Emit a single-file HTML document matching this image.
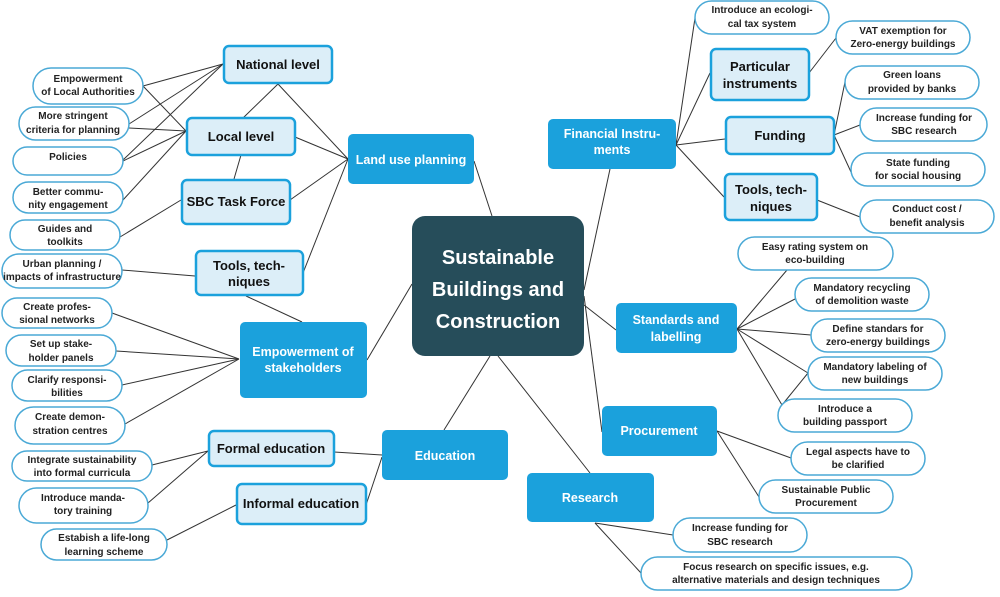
<!DOCTYPE html>
<html><head><meta charset="utf-8"><style>
html,body{margin:0;padding:0;background:#fff}
svg{display:block}
text{font-family:"Liberation Sans",sans-serif;font-weight:bold;text-anchor:middle}
.p{font-size:10px;fill:#222}
.l{font-size:13px;fill:#111}
.b{font-size:12.5px;fill:#fff}
</style></head><body>
<svg width="1000" height="597" viewBox="0 0 1000 597">
<g stroke="#333" stroke-width="1" fill="none">
<line x1="348" y1="159" x2="278" y2="84"/><line x1="348" y1="159" x2="295" y2="137"/><line x1="348" y1="159" x2="290" y2="200"/><line x1="348" y1="159" x2="303" y2="273"/><line x1="474" y1="161" x2="492" y2="216"/>
<line x1="223" y1="64" x2="143" y2="86"/><line x1="223" y1="64" x2="129" y2="124"/><line x1="223" y1="64" x2="123" y2="160"/>
<line x1="278" y1="84" x2="243" y2="118"/>
<line x1="186" y1="131" x2="143" y2="86"/><line x1="186" y1="131" x2="129" y2="128"/><line x1="186" y1="131" x2="123" y2="161"/><line x1="186" y1="131" x2="123" y2="200"/>
<line x1="241" y1="155" x2="234" y2="179"/><line x1="181" y1="200" x2="120" y2="237"/><line x1="195" y1="276" x2="122" y2="270"/><line x1="246" y1="296" x2="302" y2="322"/>
<line x1="239" y1="359" x2="112" y2="313"/><line x1="239" y1="359" x2="116" y2="351"/><line x1="239" y1="359" x2="122" y2="385"/><line x1="239" y1="359" x2="125" y2="424"/>
<line x1="367" y1="360" x2="412" y2="284"/>
<line x1="208" y1="451" x2="152" y2="465"/><line x1="208" y1="451" x2="148" y2="503"/><line x1="334" y1="452" x2="382" y2="455"/><line x1="366" y1="505" x2="382" y2="457"/><line x1="236" y1="505" x2="167" y2="540"/>
<line x1="444" y1="430" x2="490" y2="356"/><line x1="498" y1="356" x2="590" y2="473"/>
<line x1="595" y1="523" x2="673" y2="535"/><line x1="595" y1="523" x2="641" y2="573"/>
<line x1="717" y1="431" x2="791" y2="458"/><line x1="717" y1="431" x2="759" y2="497"/>
<line x1="584" y1="296" x2="602" y2="432"/><line x1="616" y1="330" x2="584" y2="305"/>
<line x1="737" y1="329" x2="787" y2="270"/><line x1="737" y1="329" x2="795" y2="299"/><line x1="737" y1="329" x2="811" y2="335"/><line x1="737" y1="329" x2="808" y2="373"/><line x1="737" y1="329" x2="782" y2="405"/><line x1="808" y1="373" x2="782" y2="405"/>
<line x1="610" y1="169" x2="584" y2="290"/>
<line x1="676" y1="145" x2="695" y2="18"/><line x1="676" y1="145" x2="710" y2="73"/><line x1="676" y1="145" x2="725" y2="139"/><line x1="676" y1="145" x2="724" y2="197"/>
<line x1="809" y1="73" x2="836" y2="38"/><line x1="834" y1="135" x2="845" y2="82"/><line x1="834" y1="135" x2="860" y2="125"/><line x1="834" y1="135" x2="851" y2="172"/><line x1="817" y1="200" x2="860" y2="217"/>
</g>
<rect x="412" y="216" width="172" height="140" rx="13" fill="#264d5a"/>
<text x="498" y="264" font-size="20" fill="#fff">Sustainable</text>
<text x="498" y="296" font-size="20" fill="#fff">Buildings and</text>
<text x="498" y="328" font-size="20" fill="#fff">Construction</text>
<g fill="#1ba1dc">
<rect x="348" y="134" width="126" height="50" rx="5"/>
<rect x="240" y="322" width="127" height="76" rx="5"/>
<rect x="382" y="430" width="126" height="50" rx="5"/>
<rect x="548" y="119" width="128" height="50" rx="5"/>
<rect x="616" y="303" width="121" height="50" rx="5"/>
<rect x="602" y="406" width="115" height="50" rx="5"/>
<rect x="527" y="473" width="127" height="49" rx="5"/>
</g>
<text class="b" x="411" y="164">Land use planning</text>
<text class="b" x="303" y="356">Empowerment of</text><text class="b" x="303" y="372">stakeholders</text>
<text class="b" x="445" y="460">Education</text>
<text class="b" x="612" y="138">Financial Instru-</text><text class="b" x="612" y="154">ments</text>
<text class="b" x="676" y="324">Standards and</text><text class="b" x="676" y="341">labelling</text>
<text class="b" x="659" y="435">Procurement</text>
<text class="b" x="590" y="502">Research</text>
<g fill="#dceef8" stroke="#1ba1dc" stroke-width="2.5">
<rect x="224" y="46" width="108" height="37" rx="5"/>
<rect x="187" y="118" width="108" height="37" rx="5"/>
<rect x="182" y="180" width="108" height="44" rx="5"/>
<rect x="196" y="251" width="107" height="44" rx="5"/>
<rect x="209" y="431" width="125" height="35" rx="5"/>
<rect x="237" y="484" width="129" height="40" rx="5"/>
<rect x="711" y="49" width="98" height="51" rx="5"/>
<rect x="726" y="117" width="108" height="37" rx="5"/>
<rect x="725" y="174" width="92" height="46" rx="5"/>
</g>
<text class="l" x="278" y="69">National level</text>
<text class="l" x="241" y="141">Local level</text>
<text class="l" x="236" y="206">SBC Task Force</text>
<text class="l" x="249" y="270">Tools, tech-</text><text class="l" x="249" y="286">niques</text>
<text class="l" x="271" y="453">Formal education</text>
<text class="l" x="301" y="508">Informal education</text>
<text class="l" x="760" y="71">Particular</text><text class="l" x="760" y="88">instruments</text>
<text class="l" x="780" y="140">Funding</text>
<text class="l" x="771" y="194">Tools, tech-</text><text class="l" x="771" y="211">niques</text>
<g fill="#fff" stroke="#4aa9d6" stroke-width="1.5">
<rect x="33" y="68" width="110" height="36" rx="18"/>
<rect x="19" y="107" width="110" height="33" rx="16.5"/>
<rect x="13" y="147" width="110" height="28" rx="14"/>
<rect x="13" y="182" width="110" height="31" rx="15.5"/>
<rect x="10" y="220" width="110" height="30" rx="15"/>
<rect x="2" y="254" width="120" height="34" rx="17"/>
<rect x="2" y="298" width="110" height="30" rx="15"/>
<rect x="6" y="335" width="110" height="31" rx="15.5"/>
<rect x="12" y="370" width="110" height="31" rx="15.5"/>
<rect x="15" y="407" width="110" height="37" rx="18.5"/>
<rect x="12" y="451" width="140" height="30" rx="15"/>
<rect x="19" y="488" width="129" height="35" rx="17.5"/>
<rect x="41" y="529" width="126" height="31" rx="15.5"/>
<rect x="695" y="1" width="134" height="33" rx="16.5"/>
<rect x="836" y="21" width="134" height="33" rx="16.5"/>
<rect x="845" y="66" width="134" height="33" rx="16.5"/>
<rect x="860" y="108" width="127" height="33" rx="16.5"/>
<rect x="851" y="153" width="134" height="33" rx="16.5"/>
<rect x="860" y="200" width="134" height="33" rx="16.5"/>
<rect x="738" y="237" width="155" height="33" rx="16.5"/>
<rect x="795" y="278" width="134" height="33" rx="16.5"/>
<rect x="811" y="319" width="134" height="33" rx="16.5"/>
<rect x="808" y="357" width="134" height="33" rx="16.5"/>
<rect x="778" y="399" width="134" height="33" rx="16.5"/>
<rect x="791" y="442" width="134" height="33" rx="16.5"/>
<rect x="759" y="480" width="134" height="33" rx="16.5"/>
<rect x="673" y="518" width="134" height="34" rx="17"/>
<rect x="641" y="557" width="271" height="33" rx="16.5"/>
</g>
<g class="p">
<text class="p" x="88" y="82">Empowerment</text><text class="p" x="88" y="95">of Local Authorities</text>
<text class="p" x="73" y="119">More stringent</text><text class="p" x="73" y="133">criteria for planning</text>
<text class="p" x="68" y="160">Policies</text>
<text class="p" x="68" y="195">Better commu-</text><text class="p" x="68" y="208">nity engagement</text>
<text class="p" x="65" y="232">Guides and</text><text class="p" x="65" y="245">toolkits</text>
<text class="p" x="62" y="267">Urban planning /</text><text class="p" x="62" y="280">impacts of infrastructure</text>
<text class="p" x="57" y="310">Create profes-</text><text class="p" x="57" y="323">sional networks</text>
<text class="p" x="61" y="347">Set up stake-</text><text class="p" x="61" y="361">holder panels</text>
<text class="p" x="67" y="383">Clarify responsi-</text><text class="p" x="67" y="396">bilities</text>
<text class="p" x="70" y="420">Create demon-</text><text class="p" x="70" y="434">stration centres</text>
<text class="p" x="82" y="463">Integrate sustainability</text><text class="p" x="82" y="476">into formal curricula</text>
<text class="p" x="83" y="501">Introduce manda-</text><text class="p" x="83" y="514">tory training</text>
<text class="p" x="104" y="541">Estabish a life-long</text><text class="p" x="104" y="555">learning scheme</text>
<text class="p" x="762" y="13">Introduce an ecologi-</text><text class="p" x="762" y="27">cal tax system</text>
<text class="p" x="903" y="34">VAT exemption for</text><text class="p" x="903" y="47">Zero-energy buildings</text>
<text class="p" x="912" y="78">Green loans</text><text class="p" x="912" y="92">provided by banks</text>
<text class="p" x="924" y="121">Increase funding for</text><text class="p" x="924" y="134">SBC research</text>
<text class="p" x="918" y="166">State funding</text><text class="p" x="918" y="179">for social housing</text>
<text class="p" x="927" y="212">Conduct cost /</text><text class="p" x="927" y="226">benefit analysis</text>
<text class="p" x="815" y="250">Easy rating system on</text><text class="p" x="815" y="263">eco-building</text>
<text class="p" x="862" y="291">Mandatory recycling</text><text class="p" x="862" y="304">of demolition waste</text>
<text class="p" x="878" y="332">Define standars for</text><text class="p" x="878" y="345">zero-energy buildings</text>
<text class="p" x="875" y="370">Mandatory labeling of</text><text class="p" x="875" y="383">new buildings</text>
<text class="p" x="845" y="412">Introduce a</text><text class="p" x="845" y="425">building passport</text>
<text class="p" x="858" y="455">Legal aspects have to</text><text class="p" x="858" y="468">be clarified</text>
<text class="p" x="826" y="493">Sustainable Public</text><text class="p" x="826" y="506">Procurement</text>
<text class="p" x="740" y="531">Increase funding for</text><text class="p" x="740" y="545">SBC research</text>
<text class="p" x="776" y="570">Focus research on specific issues, e.g.</text><text class="p" x="776" y="583">alternative materials and design techniques</text>
</g>
</svg>
</body></html>
